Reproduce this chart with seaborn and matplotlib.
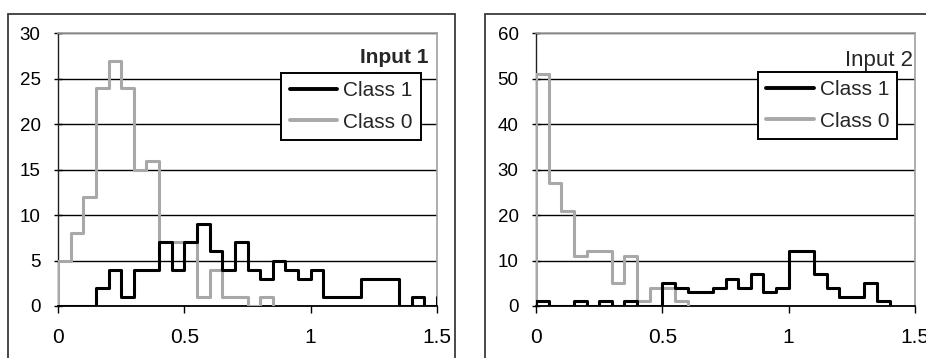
import numpy as np
import pandas as pd
import matplotlib.pyplot as plt
from matplotlib.lines import Line2D
from matplotlib.patches import Rectangle
import seaborn as sns

# histogram counts, bin width 0.05 starting at 0
bin_width = 0.05
in1_class1 = [0, 0, 0, 2, 4, 1, 4, 4, 7, 4, 7, 9, 6, 4, 7, 4, 3, 5, 4, 3,
              4, 1, 1, 1, 3, 3, 3, 0, 1, 0, 1]
in1_class0 = [5, 8, 12, 24, 27, 24, 15, 16, 7, 7, 7, 1, 4, 1, 1, 0, 1]
in2_class1 = [1, 0, 0, 1, 0, 1, 0, 1, 0, 0, 5, 4, 3, 3, 4, 6, 4, 7, 3, 4,
              12, 12, 7, 4, 2, 2, 5, 1]
in2_class0 = [51, 27, 21, 11, 12, 12, 5, 11, 1, 4, 4, 1]

x_ticks = [0, 0.5, 1, 1.5]
x_labels = ['0', '0.5', '1', '1.5']
panel_titles = ['Input 1', 'Input 2']
y_maxes = [30, 60]
y_steps = [5, 10]

colors = {'Class 1': 'black', 'Class 0': '#a8a8a8'}


def step_frame(counts, label):
    # closed step outline: rise at 0, fall after the last bin
    n = len(counts)
    xs = [0.0] + [i * bin_width for i in range(n)] + [n * bin_width]
    ys = [0] + list(counts) + [0]
    return pd.DataFrame({'x': xs, 'count': ys, 'Class': label})


sns.set_style('white')
plt.rcParams['font.family'] = ['Liberation Sans', 'DejaVu Sans']

fig = plt.figure(figsize=(9.26, 3.58), dpi=100)
ax1 = fig.add_axes([58 / 926, 1 - 306 / 358, 379 / 926, 272.7 / 358])
ax2 = fig.add_axes([536 / 926, 1 - 306 / 358, 379 / 926, 272.7 / 358])

# outer panel frames
fig.add_artist(Rectangle((8 / 926, -0.05), 447 / 926, 1.05 - 14 / 358,
                         transform=fig.transFigure, fill=False,
                         edgecolor='#3a3a3a', lw=1.3))
fig.add_artist(Rectangle((485 / 926, -0.05), 0.5, 1.05 - 14 / 358,
                         transform=fig.transFigure, fill=False,
                         edgecolor='#3a3a3a', lw=1.3))

panels = [(ax1, in1_class1, in1_class0), (ax2, in2_class1, in2_class0)]
legend_pos = [(0.589, 0.855), (0.586, 0.859)]
title_pos = [(0.978, 0.913, 'bold', 15), (0.994, 0.902, 'normal', 16)]

for i, (ax, c1, c0) in enumerate(panels):
    df = pd.concat([step_frame(c0, 'Class 0'), step_frame(c1, 'Class 1')],
                   ignore_index=True)
    sns.lineplot(data=df, x='x', y='count', hue='Class', palette=colors,
                 hue_order=['Class 0', 'Class 1'], estimator=None, sort=False,
                 drawstyle='steps-post', lw=2.2, ax=ax, legend=False,
                 zorder=3)

    ax.set_xlim(0, 1.5)
    ax.set_ylim(0, y_maxes[i])
    ax.set_xticks(x_ticks)
    ax.set_xticklabels(x_labels)
    ax.set_yticks(np.arange(0, y_maxes[i] + 1, y_steps[i]))
    ax.set_xlabel('')
    ax.set_ylabel('')
    ax.yaxis.grid(True, color='black', lw=1)
    ax.set_axisbelow(True)

    for side in ['top', 'right']:
        ax.spines[side].set_color('#a0a0a0')
        ax.spines[side].set_linewidth(1.2)
    ax.spines['left'].set_color('#202020')
    ax.spines['left'].set_linewidth(1.0)
    ax.spines['bottom'].set_color('black')
    ax.spines['bottom'].set_linewidth(1.3)

    ax.tick_params(axis='y', direction='inout', length=6, width=1, pad=9.5,
                   labelsize=13.5, left=True, colors='black')
    ax.tick_params(axis='x', direction='out', length=5, width=1, pad=11,
                   labelsize=15, bottom=True, colors='black')

    tx, ty, tw, ts = title_pos[i]
    ax.text(tx, ty, panel_titles[i], transform=ax.transAxes, ha='right',
            va='center', fontsize=ts, fontweight=tw, zorder=5)

    handles = [Line2D([], [], color=colors['Class 1'], lw=2.8),
               Line2D([], [], color=colors['Class 0'], lw=2.8)]
    leg = ax.legend(handles, ['Class 1', 'Class 0'], loc='upper left',
                    bbox_to_anchor=legend_pos[i], borderaxespad=0,
                    fontsize=15, frameon=True, fancybox=False,
                    edgecolor='black', framealpha=1, handlelength=2.3,
                    handletextpad=0.25, labelspacing=0.6, borderpad=0.4)
    leg.get_frame().set_linewidth(1.4)

fig.savefig('out.png', dpi=100, facecolor='white')
